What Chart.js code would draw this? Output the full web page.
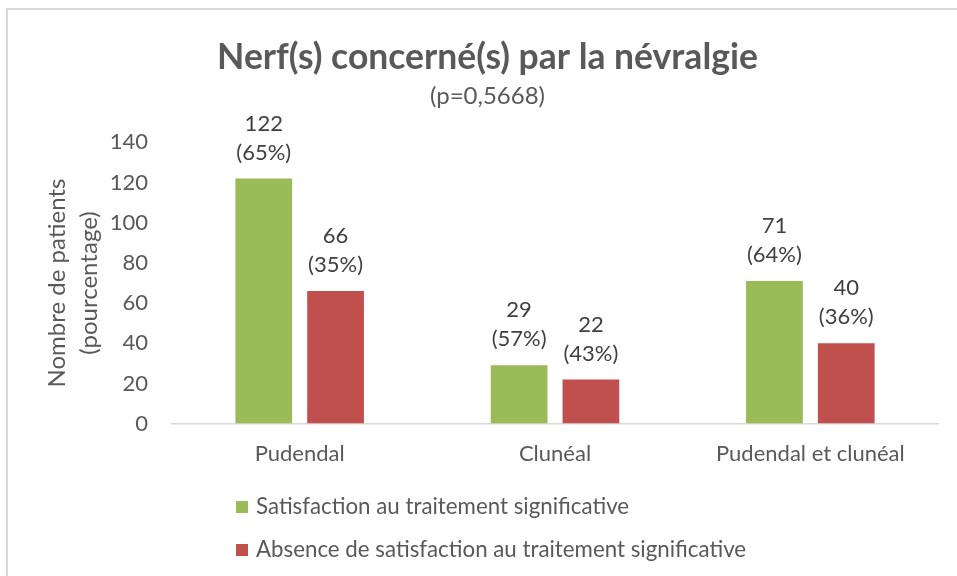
<!DOCTYPE html>
<html>
<head>
<meta charset="utf-8">
<script src="https://cdn.jsdelivr.net/npm/chart.js@4"></script>
<style>
  body { margin: 0; background: #fff; }
  #wrap { position: relative; width: 957px; height: 576px; overflow: hidden; }
  #frame { position: absolute; left: 6px; top: 8px; width: 1200px; height: 900px; border: 2px solid #d9d9d9; }
  canvas { position: absolute; left: 0; top: 0; }
</style>
</head>
<body>
<div id="wrap">
  <div id="frame"></div>
  <canvas id="chart" width="957" height="576"></canvas>
</div>
<script>
const categories = ['Pudendal', 'Clunéal', 'Pudendal et clunéal'];
const satisfied = [122, 29, 71];
const satisfiedPct = [65, 57, 64];
const notSatisfied = [66, 22, 40];
const notSatisfiedPct = [35, 43, 36];
const yTicks = [0, 20, 40, 60, 80, 100, 120, 140];

const FONT = 'Lato, "Open Sans", sans-serif';
const GREY = '#595959';

// two-line labels above each bar: value and (percent)
const barLabels = {
    id: 'barLabels',
    afterDatasetsDraw(chart) {
        const ctx = chart.ctx;
        ctx.save();
        ctx.font = '22px ' + FONT;
        ctx.fillStyle = '#404040';
        ctx.textAlign = 'center';
        ctx.textBaseline = 'middle';
        chart.data.datasets.forEach((ds, i) => {
            chart.getDatasetMeta(i).data.forEach((bar, j) => {
                ctx.fillText(String(ds.data[j]), bar.x, bar.y - 55);
                ctx.fillText('(' + ds.pct[j] + '%)', bar.x, bar.y - 26);
            });
        });
        ctx.restore();
    }
};

// vertical legend under the axis, left aligned
const stackedLegend = {
    id: 'stackedLegend',
    afterDraw(chart) {
        const ctx = chart.ctx;
        const x = 236;
        let y = 507;
        ctx.save();
        ctx.font = '22.3px ' + FONT;
        ctx.textBaseline = 'middle';
        chart.data.datasets.forEach(ds => {
            ctx.fillStyle = ds.backgroundColor;
            ctx.fillRect(x, y - 6, 12, 12);
            ctx.fillStyle = GREY;
            ctx.fillText(ds.label, x + 20, y);
            y += 43;
        });
        ctx.restore();
    }
};

new Chart(document.getElementById('chart'), {
    type: 'bar',
    data: {
        labels: categories,
        datasets: [
            { label: 'Satisfaction au traitement significative', data: satisfied, pct: satisfiedPct,
              backgroundColor: '#9bbb59' },
            { label: 'Absence de satisfaction au traitement significative', data: notSatisfied, pct: notSatisfiedPct,
              backgroundColor: '#c0504d' },
        ],
    },
    options: {
        responsive: false,
        animation: false,
        layout: { padding: { left: 37, right: 19, top: 0, bottom: 92 } },
        datasets: { bar: { categoryPercentage: 0.5625, barPercentage: 0.79 } },
        plugins: {
            legend: { display: false },
            tooltip: { enabled: false },
            title: {
                display: true,
                text: 'Nerf(s) concerné(s) par la névralgie',
                color: GREY,
                font: { family: FONT, size: 35.5, weight: 'bold', lineHeight: 1.2 },
                padding: { top: 36, bottom: 0 },
            },
            subtitle: {
                display: true,
                text: '(p=0,5668)',
                color: GREY,
                font: { family: FONT, size: 24, lineHeight: 1.2 },
                padding: { top: 3, bottom: 32 },
            },
        },
        scales: {
            x: {
                grid: { display: false, drawTicks: false },
                border: { color: '#d9d9d9', width: 1.5 },
                ticks: { color: GREY, font: { family: FONT, size: 22 }, padding: 17 },
            },
            y: {
                min: 0,
                max: 140,
                afterBuildTicks: scale => { scale.ticks = yTicks.map(v => ({ value: v })); },
                afterFit: scale => { scale.width = 135; },
                grid: { display: false, drawTicks: false },
                border: { display: false },
                ticks: { color: GREY, font: { family: FONT, size: 22 }, padding: 24 },
                title: {
                    display: true,
                    text: ['Nombre de patients', '(pourcentage)'],
                    color: GREY,
                    font: { family: FONT, size: 24, lineHeight: 1.3 },
                    padding: { top: 5, bottom: 0 },
                },
            },
        },
    },
    plugins: [barLabels, stackedLegend],
});
</script>
</body>
</html>
